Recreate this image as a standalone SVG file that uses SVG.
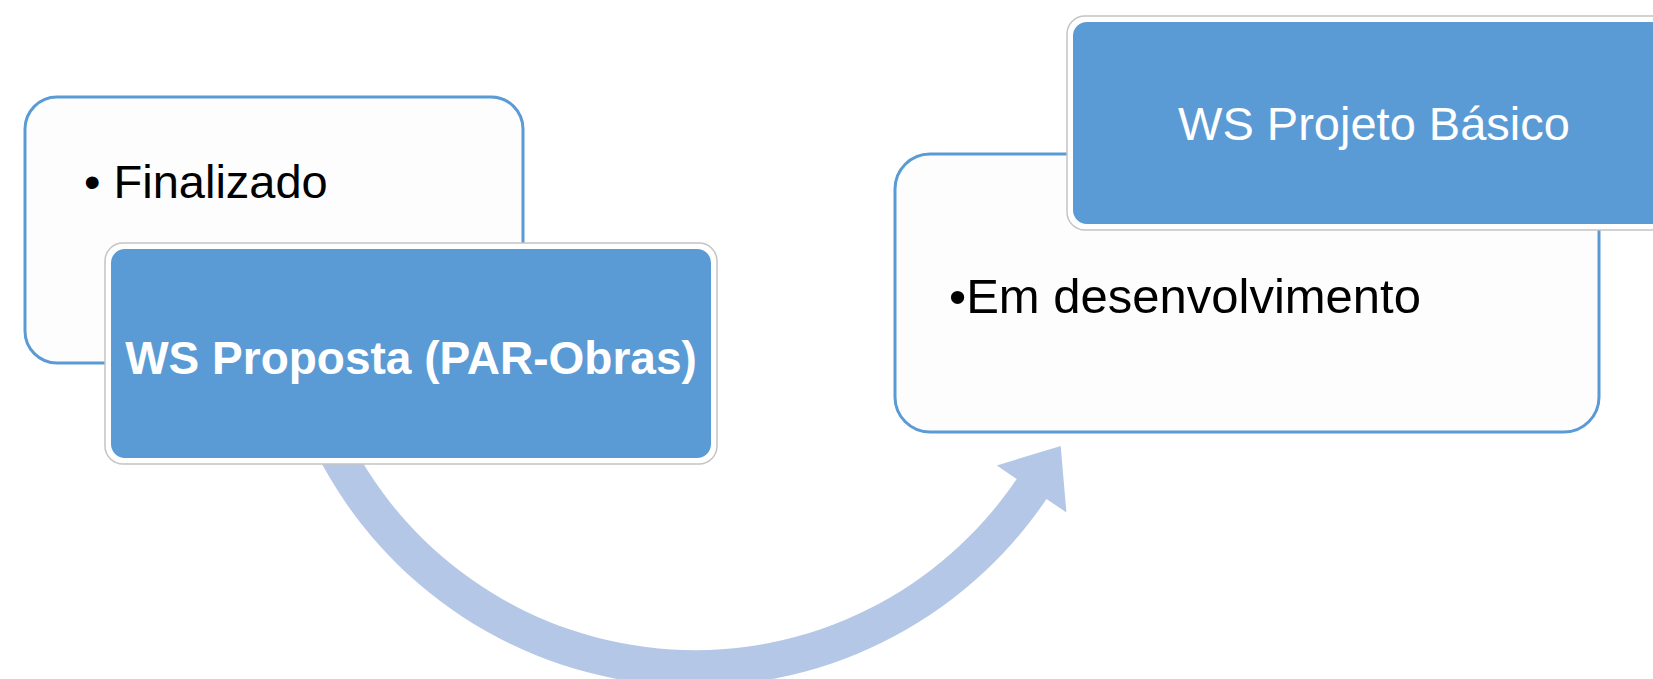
<svg xmlns="http://www.w3.org/2000/svg" width="1653" height="679" viewBox="0 0 1653 679">
  <style>
    .card { fill: #FDFDFD; stroke: #5B9BD5; stroke-width: 3; }
    .shadow { fill: #FFFFFF; stroke: #C4C4C4; stroke-width: 1.5; }
    .title { fill: #5B9BD5; stroke: #FFFFFF; stroke-width: 2; }
    .txt { font-family: "Liberation Sans", Arial, sans-serif; font-size: 47px; fill: #000000; }
    .ttl { font-family: "Liberation Sans", Arial, sans-serif; font-size: 47px; fill: #FFFFFF; text-anchor: middle; }
    .arrow { fill: #B4C7E7; }
  </style>
  <rect x="0" y="0" width="1653" height="679" fill="#FFFFFF"/>
  <g id="connectors">
    <path class="arrow" d="M 317 454.5 A 424 424 0 0 0 1046.5 499 L 1066.4 512.4 L 1060.7 445.9 L 996.8 465.5 L 1016.7 478.9 A 388 388 0 0 1 349 438 Z"/>
  </g>
  <g id="node-finalizado">
    <rect class="card" x="25" y="97" width="498" height="266" rx="32" ry="32"/>
    <text class="txt" x="84" y="198">• Finalizado</text>
  </g>
  <g id="node-ws-proposta">
    <rect class="shadow" x="105" y="243" width="612" height="221" rx="18" ry="18"/>
    <rect class="title" x="110" y="248" width="602" height="211" rx="15" ry="15"/>
    <text class="ttl" x="411" y="374" font-weight="bold" style="font-size:46px">WS Proposta (PAR-Obras)</text>
  </g>
  <g id="node-em-desenvolvimento">
    <rect class="card" x="895" y="154" width="704" height="278" rx="35" ry="35"/>
    <text class="txt" x="949" y="313" style="font-size:49px">•Em desenvolvimento</text>
  </g>
  <g id="node-ws-projeto-basico">
    <rect class="shadow" x="1067" y="16" width="614" height="214" rx="18" ry="18"/>
    <rect class="title" x="1072" y="21" width="604" height="204" rx="15" ry="15"/>
    <text class="ttl" x="1374" y="140">WS Projeto Básico</text>
  </g>
</svg>
